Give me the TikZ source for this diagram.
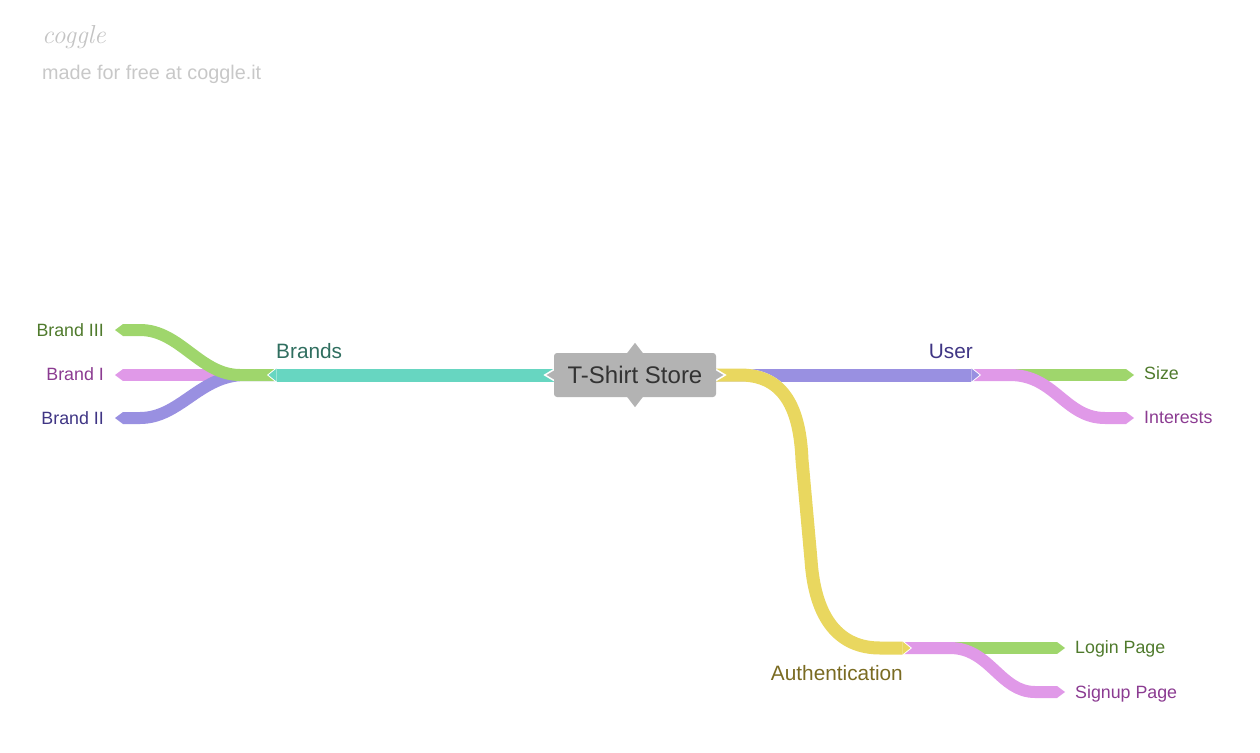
\documentclass[tikz,border=0pt]{standalone}
\usepackage{fontspec}
\newfontfamily\sansf{Liberation Sans}
\usetikzlibrary{arrows.meta}
\pgfdeclarelayer{bg}
\pgfdeclarelayer{mid}
\pgfsetlayers{bg,mid,main}
\definecolor{cteal}{HTML}{67D6C1}
\definecolor{cgreen}{HTML}{9FD66C}
\definecolor{cpink}{HTML}{E099E8}
\definecolor{cpurple}{HTML}{9990E1}
\definecolor{cyellow}{HTML}{E9D75F}
\definecolor{cgray}{HTML}{B3B3B3}
\definecolor{tgreen}{HTML}{4F7A2C}
\definecolor{tpink}{HTML}{8B3B91}
\definecolor{tpurple}{HTML}{3F3584}
\definecolor{tteal}{HTML}{2F6E5F}
\definecolor{tyellow}{HTML}{7A6B22}
\definecolor{tcenter}{HTML}{333333}
\definecolor{clogo}{HTML}{C4C4C4}
\definecolor{cmade}{HTML}{C8C8C8}
\tikzset{
  band/.style={line width=13pt,
    preaction={draw=white, line width=13pt, shorten >=0pt, -{Triangle[length=10pt,width=16pt,line width=0pt]}},
    shorten >=1.6pt, -{Triangle[length=8pt,width=13pt,line width=0pt]}},
  twig/.style={line width=12pt, -{Triangle[length=8pt,width=12pt,line width=0pt]}},
  lbl/.style={inner sep=0pt, font=\sansf\fontsize{17.8}{21}\selectfont},
  mainlbl/.style={inner sep=0pt, font=\sansf\fontsize{20.8}{24}\selectfont},
  centerbox/.style={fill=cgray, rounded corners=3pt, minimum width=162pt, minimum height=44pt,
    inner sep=0pt, text=tcenter, font=\sansf\fontsize{24}{28}\selectfont},
  chev/.style={fill=cgray, draw=white, line width=1.5pt, line join=miter}
}
\begin{document}
\begin{tikzpicture}[x=1pt,y=-1pt]
\useasboundingbox (0,0) rectangle (1260,752);

% logo
\node[anchor=base west, inner sep=0pt, text=clogo, font=\fontsize{26}{30}\selectfont\itshape] (logo) at (42,44) {coggle};
\node[anchor=base west, inner sep=0pt, text=cmade, font=\sansf\fontsize{19.8}{23}\selectfont] (made) at (42,79) {made for free at coggle.it};

% central node
\node[centerbox] (c) at (635,375) {T-Shirt Store};

% junctions and ends
\coordinate (jB) at (267,375);
\coordinate (sB) at (280,375);
\coordinate (b1) at (115,375);
\coordinate (b2) at (115,418);
\coordinate (b3) at (115,330);
\coordinate (jU) at (981,375);
\coordinate (sU) at (970,375);
\coordinate (u1) at (1134,375);
\coordinate (u2) at (1134,418);
\coordinate (jA) at (912,648);
\coordinate (sA) at (900,648);
\coordinate (a1) at (1065,648);
\coordinate (a2) at (1065,692);

\begin{pgfonlayer}{bg}
  % Brands children
  \draw[twig, cpink] (sB) -- (b1);
  \draw[twig, cpurple] (sB) -- (245,375) .. controls (200,375) and (180,418) .. (140,418) -- (b2);
  \draw[twig, cgreen] (sB) -- (240,375) .. controls (200,375) and (180,330) .. (140,330) -- (b3);
  \draw[band, cteal] (c.center) -- (jB);
  % User children
  \draw[twig, cgreen] (sU) -- (u1);
  \draw[twig, cpink] (sU) -- (1010,375) .. controls (1055,375) and (1065,418) .. (1105,418) -- (u2);
  \draw[band, cpurple] (c.center) -- (jU);
  % Authentication children
  \draw[twig, cgreen] (sA) -- (a1);
  \draw[twig, cpink] (sA) -- (950,648) .. controls (990,648) and (1000,692) .. (1035,692) -- (a2);
  \draw[band, cyellow] (c.center) -- (740,375) .. controls (785,375) and (800,410) .. (802,460)
     -- (811,560) .. controls (815,620) and (840,648) .. (880,648) -- (jA);
\end{pgfonlayer}

\begin{pgfonlayer}{mid}
  \draw[chev] ([shift={(6,-9)}]c.west) -- ([shift={(-9,0)}]c.west) -- ([shift={(6,9)}]c.west) -- cycle;
  \draw[chev] ([shift={(-6,-9)}]c.east) -- ([shift={(9,0)}]c.east) -- ([shift={(-6,9)}]c.east) -- cycle;
  \fill[cgray] ([shift={(-10,3)}]c.north) -- ([shift={(0,-10)}]c.north) -- ([shift={(10,3)}]c.north) -- cycle;
  \fill[cgray] ([shift={(-10,-3)}]c.south) -- ([shift={(0,10)}]c.south) -- ([shift={(10,-3)}]c.south) -- cycle;
\end{pgfonlayer}

% main labels
\node[mainlbl, text=tteal, anchor=base west] (lBrands) at (276,358) {Brands};
\node[mainlbl, text=tpurple, anchor=base east] (lUser) at (973,358) {User};
\node[mainlbl, text=tyellow, anchor=base east] (lAuth) at (903,680) {Authentication};

% child labels
\node[lbl, text=tgreen, anchor=base east] (lb3) at (104,336) {Brand III};
\node[lbl, text=tpink, anchor=base east] (lb1) at (104,380) {Brand I};
\node[lbl, text=tpurple, anchor=base east] (lb2) at (104,424) {Brand II};
\node[lbl, text=tgreen, anchor=base west] (lu1) at (1144,379) {Size};
\node[lbl, text=tpink, anchor=base west] (lu2) at (1144,423) {Interests};
\node[lbl, text=tgreen, anchor=base west] (la1) at (1075,653) {Login Page};
\node[lbl, text=tpink, anchor=base west] (la2) at (1075,698) {Signup Page};
\end{tikzpicture}
\end{document}
